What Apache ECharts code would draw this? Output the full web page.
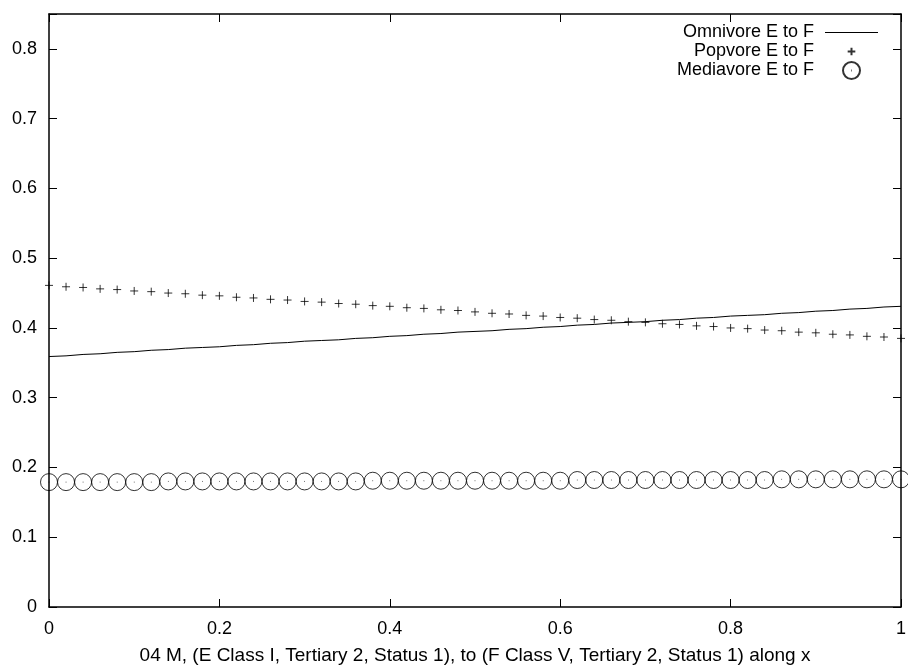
<!DOCTYPE html>
<html><head><meta charset="utf-8">
<script src="https://cdn.jsdelivr.net/npm/echarts@6/dist/echarts.min.js"></script>
<style>html,body{margin:0;padding:0;background:#fff}#c{width:908px;height:666px}</style>
</head><body><div id="c"></div>
<script>
var xs = [0,0.02,0.04,0.06,0.08,0.1,0.12,0.14,0.16,0.18,0.2,0.22,0.24,0.26,0.28,0.3,0.32,0.34,0.36,0.38,0.4,0.42,0.44,0.46,0.48,0.5,0.52,0.54,0.56,0.58,0.6,0.62,0.64,0.66,0.68,0.7,0.72,0.74,0.76,0.78,0.8,0.82,0.84,0.86,0.88,0.9,0.92,0.94,0.96,0.98,1];
var omnivore = [0.359,0.360,0.362,0.363,0.365,0.366,0.368,0.369,0.371,0.372,0.373,0.375,0.376,0.378,0.379,0.381,0.382,0.383,0.385,0.386,0.388,0.389,0.391,0.392,0.394,0.395,0.396,0.398,0.399,0.401,0.402,0.404,0.405,0.407,0.408,0.409,0.411,0.412,0.414,0.415,0.417,0.418,0.419,0.421,0.422,0.424,0.425,0.427,0.428,0.430,0.431];
var popvore = [0.461,0.459,0.458,0.456,0.455,0.453,0.452,0.450,0.449,0.447,0.446,0.444,0.443,0.441,0.440,0.438,0.437,0.435,0.434,0.432,0.431,0.429,0.428,0.426,0.425,0.423,0.421,0.420,0.418,0.417,0.415,0.414,0.412,0.411,0.409,0.408,0.406,0.405,0.403,0.402,0.400,0.399,0.397,0.396,0.394,0.393,0.391,0.390,0.388,0.387,0.385];
var mediavore = [0.179,0.179,0.179,0.179,0.179,0.179,0.179,0.180,0.180,0.180,0.180,0.180,0.180,0.180,0.180,0.180,0.180,0.180,0.180,0.181,0.181,0.181,0.181,0.181,0.181,0.181,0.181,0.181,0.181,0.181,0.181,0.182,0.182,0.182,0.182,0.182,0.182,0.182,0.182,0.182,0.182,0.182,0.182,0.183,0.183,0.183,0.183,0.183,0.183,0.183,0.183];
var seriesNames = ['Omnivore E to F','Popvore E to F','Mediavore E to F'];
var xTitle = '04 M, (E Class I, Tertiary 2, Status 1), to (F Class V, Tertiary 2, Status 1) along x';

function pairs(ys){ return xs.map(function(x,i){ return [x, ys[i]]; }); }
var FONT = 'Liberation Sans, Arial, Helvetica, sans-serif';
var FS = 18;
var plusPath = 'path://M0,5 L10,5 M5,0 L5,10';
var plusLegend = 'path://M0,0 L0.001,0 M20,20 L20.001,20 M5.5,10 L14.5,10 M10,5.5 L10,14.5';
var lineLegend = 'path://M0,0 L53,0 L53,1 L0,1 Z';
var circPath = 'path://M0,10 A10,10 0 1,1 20,10 A10,10 0 1,1 0,10 Z M9.6,10 L10.4,10';

var chart = echarts.init(document.getElementById('c'), null, {renderer:'canvas'});
function axLine(){ return {show:true, onZero:false, lineStyle:{color:'#000', width:1.5}}; }
function axTick(){ return {inside:true, length:8, lineStyle:{color:'#000', width:1}}; }
chart.setOption({
  animation:false,
  backgroundColor:'#fff',
  textStyle:{fontFamily:FONT},
  grid:{left:49, right:7, top:14, bottom:59, show:false, containLabel:false, outerBoundsMode:'none'},
  legend:{
    right:25, top:18, orient:'vertical', align:'right',
    itemWidth:53, itemHeight:17, itemGap:0,
    textStyle:{fontFamily:FONT, fontSize:FS, lineHeight:19, color:'#000', padding:[0,6,0,0]},
    data:[
      {name:seriesNames[0], icon:lineLegend, itemStyle:{color:'#000', borderWidth:0}},
      {name:seriesNames[1], icon:plusLegend},
      {name:seriesNames[2]}
    ]
  },
  xAxis:[{
    type:'value', min:0, max:1, interval:0.2,
    axisLine:axLine(), axisTick:axTick(),
    splitLine:{show:false},
    axisLabel:{color:'#000', fontSize:FS, fontFamily:FONT, margin:13},
    name:xTitle, nameLocation:'middle', nameGap:39,
    nameTextStyle:{color:'#000', fontSize:19, fontFamily:FONT}
  },{
    type:'value', min:0, max:1, interval:0.2, position:'top',
    axisLine:axLine(), axisTick:axTick(),
    splitLine:{show:false}, axisLabel:{show:false}
  }],
  yAxis:[{
    type:'value', min:0, max:0.85, interval:0.1,
    axisLine:axLine(), axisTick:axTick(),
    splitLine:{show:false},
    axisLabel:{color:'#000', fontSize:FS, fontFamily:FONT, margin:12,
      formatter:function(v){ return Math.abs(v-0.85)<1e-9 ? '' : String(+v.toFixed(2)); }}
  },{
    type:'value', min:0, max:0.85, interval:0.1, position:'right',
    axisLine:axLine(), axisTick:axTick(),
    splitLine:{show:false}, axisLabel:{show:false}
  }],
  series:[
    {name:seriesNames[0], type:'line', data:pairs(omnivore), symbol:'none', showSymbol:false,
     lineStyle:{color:'#000', width:1}, itemStyle:{color:'#000'}},
    {name:seriesNames[1], type:'scatter', data:pairs(popvore), symbol:plusPath, symbolSize:8,
     itemStyle:{color:'rgba(0,0,0,0)', borderColor:'#000', borderWidth:1}},
    {name:seriesNames[2], type:'scatter', data:pairs(mediavore), symbol:circPath, symbolSize:17,
     itemStyle:{color:'rgba(0,0,0,0)', borderColor:'#000', borderWidth:1}}
  ]
});
</script></body></html>
